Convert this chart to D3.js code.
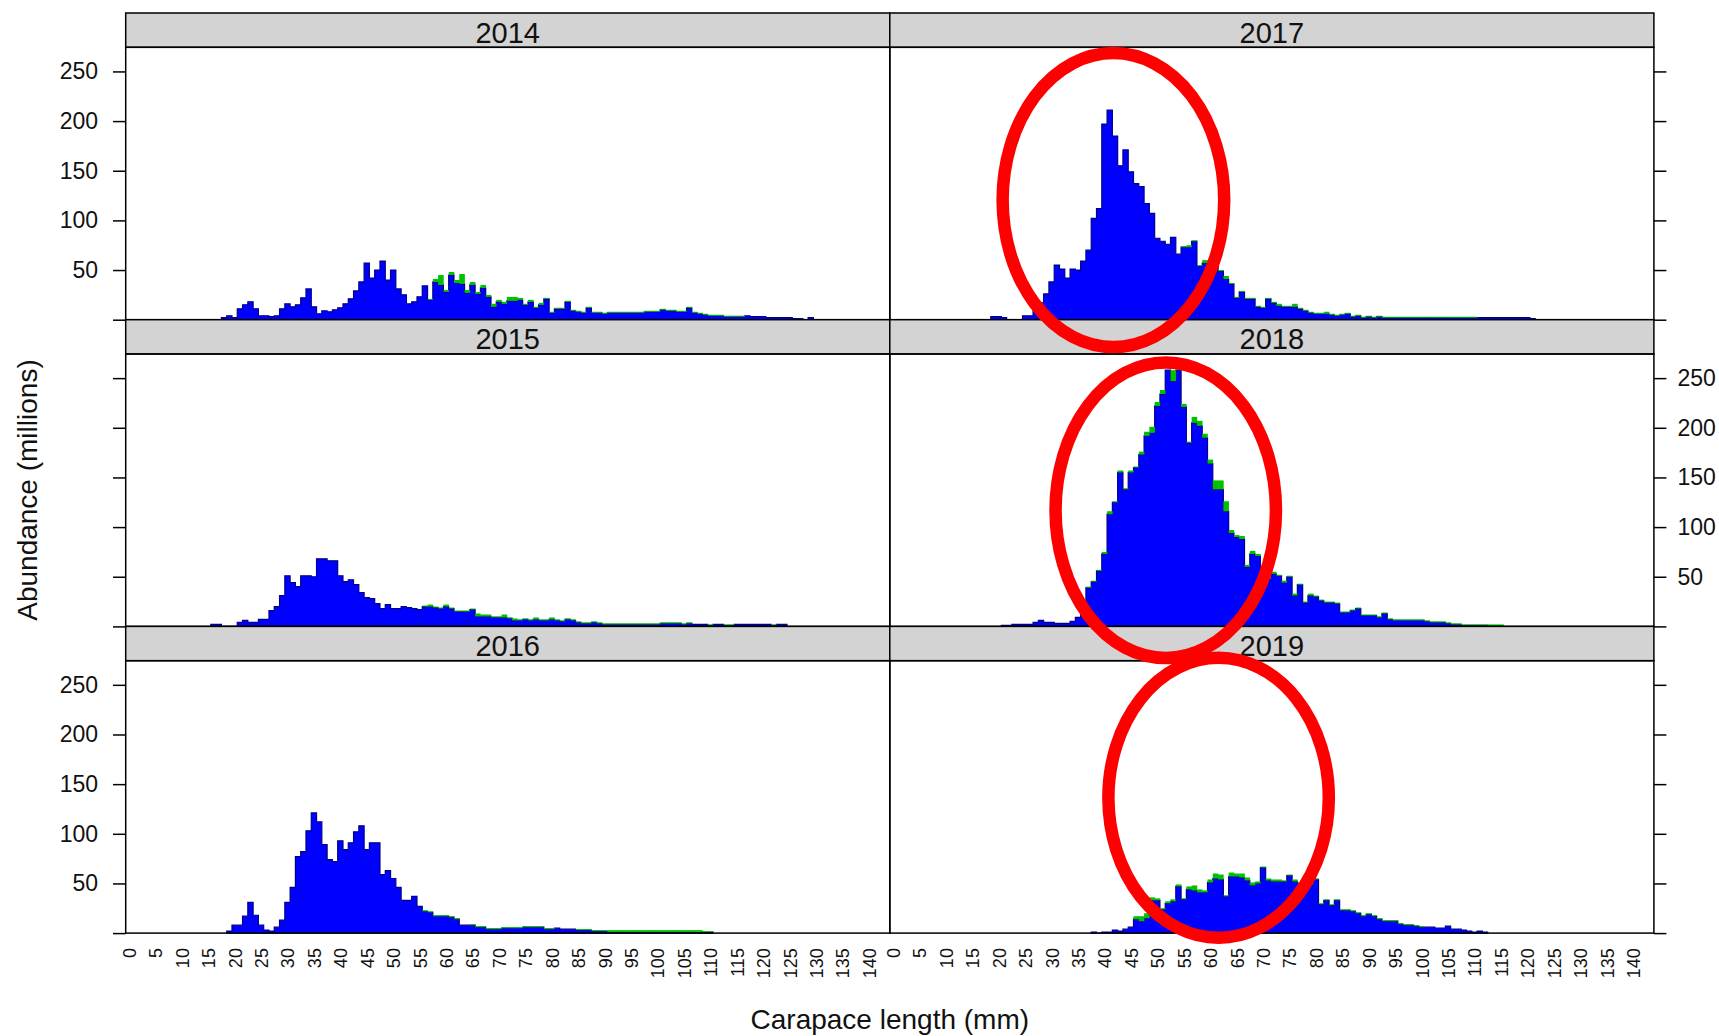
<!DOCTYPE html>
<html><head><meta charset="utf-8">
<script src="https://cdn.jsdelivr.net/npm/d3@7"></script>
<style>html,body{margin:0;padding:0;background:#fff;}svg{display:block;}</style>
</head><body><svg id="chart" width="1719" height="1036"></svg>
<script>
// ---------------- data ----------------
const years = ["2014","2015","2016","2017","2018","2019"];
const xTickLabels = [0,5,10,15,20,25,30,35,40,45,50,55,60,65,70,75,80,85,90,95,100,105,110,115,120,125,130,135,140];
const yTickValues = [0,50,100,150,200,250];
const yTickLabels = ["","50","100","150","200","250"];

// abundance (millions) per 1 mm carapace-length class; blue = main group, green = second group stacked on top
const blue2014From = 18;
const blue2014 = [2,4,2,11,15,18,11,4,4,3,4,11,16,13,15,22,31,13,6,9,8,10,12,16,21,29,38,57,42,50,59,40,50,31,25,16,18,23,34,
  20,38,35,28,45,37,36,27,35,26,32,23,13,18,16,19,19,20,15,18,12,15,21,
  7,11,11,18,9,8,7,12,7,7,6,7,7,7,7,7,7,7,8,8,8,10,9,9,8,8,12,7,6,5,4,4,4,3,3,3,3,
  4,3,3,3,2,2,2,2,2,1,1,0,2];
const green2014From = 57;
const green2014 = [1,3,10,2,3,3,10,3,3,2,3,2,3,2,2,4,4,2,1,2,1,2,1,
  1,1,1,1,1,1,1,1,1,1,1,1,1,1,1,1,1,1,1,1,1,1,1,1,1,1,1,1,1,1,1,1,1,1,1,1,1];

const blue2015From = 16;
const blue2015 = [2,2,0,0,0,4,6,4,4,7,7,16,20,31,51,44,40,51,51,50,68,68,66,66,51,45,47,42,34,29,28,23,18,22,18,18,20,19,18,17,
  20,20,19,18,20,18,15,15,15,17,10,10,10,9,9,9,8,6,6,7,6,7,6,6,7,6,5,7,6,
  4,3,3,4,3,2,2,2,2,2,2,2,2,2,2,2,3,3,3,3,2,3,
  2,2,2,1,2,2,1,1,2,2,2,2,2,2,2,1,2,2];
const green2015From = 56;
const green2015 = [1,2,1,1,2,1,1,1,1,1,3,2,2,1,1,3,1,2,1,1,1,2,1,1,2,1,1,1,1,
  1,1,1,1,1,1,1,1,1,1,1,1,1,1,1,1,1,1,1,1,1,1,
  0,0,0,1,0,0,1,1,0,0,0,0,0,0,0,1];

const blue2016From = 19;
const blue2016 = [2,8,8,17,31,18,8,3,2,6,13,31,46,77,82,103,121,112,89,74,72,93,84,91,102,108,84,91,91,59,63,55,46,33,33,37,27,
  22,21,17,17,17,16,14,8,8,
  8,6,6,4,4,4,5,5,5,5,6,6,6,6,4,4,
  5,4,4,4,3,3,3,2,2,2,
  1,1,1,1,1,1,1,1,1,1,1,1,1,1,1,1,1,1,1,1];
const green2016From = 56;
const green2016 = [1,1,1,1,1,1,1,0,0,1,1,1,1,1,1,1,1,1,1,1,1,1,1,1,1,0,0,0,0,1,1,1,1,1,1,
  2,2,2,2,2,2,2,2,2,2,2,2,2,2,2,2,2,2,1,1];

const blue2017From = 19;
const blue2017 = [3,3,2,0,0,0,4,4,12,17,26,38,55,51,42,51,50,59,70,102,112,197,211,185,155,171,149,137,134,117,107,82,79,76,83,66,
  73,73,79,54,57,54,54,49,41,36,22,28,21,21,13,12,21,17,14,13,13,13,11,9,7,6,6,6,
  5,4,5,6,3,4,2,3,2,3,
  2,2,2,2,2,2,2,2,2,2,2,2,2,2,2,2,2,2,
  2,2,2,2,2,2,2,2,2,2,1];
const green2017From = 55;
const green2017 = [1,2,1,1,3,1,2,1,3,1,1,1,1,1,1,1,1,1,2,1,1,3,1,1,1,1,1,2,
  1,1,1,1,1,1,1,1,1,1,1,1,1,1,1,1,1,1,1,1,1,1,1,1,1,1,1,1];

const blue2018From = 21;
const blue2018 = [1,1,2,2,2,2,4,6,4,4,3,3,3,5,9,12,
  39,45,56,73,113,125,155,138,155,160,173,192,195,222,234,258,247,258,221,185,205,202,190,164,138,138,116,94,90,88,60,73,71,53,48,53,51,44,50,31,42,24,31,30,
  26,24,24,23,14,14,16,18,11,11,11,9,13,7,6,6,6,6,6,6,5,4,4,4,3,2,2,1,1,1,1,1,
  0,0,0];
const green2018From = 37;
const green2018 = [1,1,1,2,3,1,2,1,2,1,3,4,6,4,4,0,11,0,3,1,6,5,4,4,9,9,10,3,2,3,2,3,2,2,1,2,1,2,1,2,1,1,2,1,
  1,1,1,1,1,1,1,1,1,1,1,1,1,1,1,1,1,1,1,1,1,1,1,1,1,1,1,1,1,1,1,1,
  2,2,2];

const blue2019From = 38;
const blue2019 = [1,0,1,1,3,2,4,6,
  14,12,15,33,33,24,30,32,47,34,44,43,41,41,51,55,54,37,57,57,56,53,48,50,66,53,52,52,52,58,52,50,44,49,54,29,33,28,33,
  23,23,22,20,17,19,17,14,12,12,12,9,8,8,7,6,
  6,6,5,5,7,4,4,3,2,1,2,1];
const green2019From = 46;
const green2019 = [3,5,5,3,2,1,2,2,2,1,3,5,3,2,3,5,5,1,4,3,4,3,3,2,1,2,2,2,1,1,2,1,1,1,1,1,1,1,1,
  1,1,1,1,1,1,1,1,1,1,1,1,1,1,1,1];

// red ring annotations (data units of their panels)
const ringYears = ["2017","2018","2019"];
const ringCenterLen = [41.7, 51.6, 61.6];
const ringCenterVal = [120.5, 117, 136.2];
const ringHalfLen = [20.96, 20.85, 20.85];
const ringHalfVal = [148, 148.8, 141];

// ---------------- drawing ----------------
const FONT = '"Liberation Sans", Arial, Helvetica, sans-serif';
const svg = d3.select("#chart").attr("font-family", FONT);
svg.append("rect").attr("width",1719).attr("height",1036).attr("fill","#fff");

const colLeft = [125.7, 889.8];
const panelW = 764.1, stripH = 34.3, panelH = 272.4, topY = 13;
const pitch = stripH + panelH;

const panels = [
  {year:"2014", col:0, row:0, blue:blue2014, blueFrom:blue2014From, green:green2014, greenFrom:green2014From},
  {year:"2015", col:0, row:1, blue:blue2015, blueFrom:blue2015From, green:green2015, greenFrom:green2015From},
  {year:"2016", col:0, row:2, blue:blue2016, blueFrom:blue2016From, green:green2016, greenFrom:green2016From},
  {year:"2017", col:1, row:0, blue:blue2017, blueFrom:blue2017From, green:green2017, greenFrom:green2017From},
  {year:"2018", col:1, row:1, blue:blue2018, blueFrom:blue2018From, green:green2018, greenFrom:green2018From},
  {year:"2019", col:1, row:2, blue:blue2019, blueFrom:blue2019From, green:green2019, greenFrom:green2019From}
];

const x = d3.scaleLinear().domain([-0.605, 143.95]).range([0, panelW]);
const y = d3.scaleLinear().domain([0, 274.3]).range([panelH, 0]);
const area = d3.area().x(d => x(d.x)).y0(d => y(d.y0)).y1(d => y(d.y1));

function panelOrigin(p){ return [colLeft[p.col], topY + p.row*pitch + stripH]; }

panels.forEach(p => {
  const [gx, gy] = panelOrigin(p);
  const g = svg.append("g").attr("transform", `translate(${gx},${gy - stripH})`);
  // strip
  g.append("rect").attr("x",0).attr("y",0).attr("width",panelW).attr("height",stripH)
    .attr("fill","#d3d3d3").attr("stroke","#000").attr("stroke-width",1.5);
  g.append("text").attr("x",panelW/2).attr("y",stripH-4.5).attr("text-anchor","middle")
    .attr("font-size",29).attr("fill","#111").text(p.year);

  const pg = svg.append("g").attr("transform", `translate(${gx},${gy})`);
  const lo = Math.min(p.blueFrom, p.greenFrom);
  const hi = Math.max(p.blueFrom + p.blue.length, p.greenFrom + p.green.length) - 1;
  const rows = [];
  for (let v = lo; v <= hi; v++) {
    rows.push({len: v, blue: p.blue[v - p.blueFrom] || 0, green: p.green[v - p.greenFrom] || 0});
  }
  const stacked = d3.stack().keys(["blue","green"])(rows);

  const pts = [];
  stacked[0].forEach(s => {
    pts.push({x: s.data.len - 0.5, y0: s[0], y1: s[1]});
    pts.push({x: s.data.len + 0.5, y0: s[0], y1: s[1]});
  });
  pg.append("path").attr("d", area(pts)).attr("fill","#0000ff")
    .attr("stroke","#00008a").attr("stroke-width",1.2);

  pg.selectAll("rect.green").data(stacked[1].filter(s => s[1] > s[0])).join("rect")
    .attr("class","green")
    .attr("x", s => x(s.data.len - 0.5)).attr("width", s => x(s.data.len + 0.5) - x(s.data.len - 0.5) + 0.3)
    .attr("y", s => y(s[1])).attr("height", s => y(s[0]) - y(s[1]))
    .attr("fill","#00c000");

  // panel border
  pg.append("rect").attr("x",0).attr("y",0).attr("width",panelW).attr("height",panelH)
    .attr("fill","none").attr("stroke","#000").attr("stroke-width",1.5);

  // y axes
  if (p.col === 0) {
    const showLab = p.row !== 1;
    const ax = d3.axisLeft(y).tickValues(yTickValues).tickSize(12.7).tickPadding(15)
      .tickFormat((d,i) => showLab ? yTickLabels[i] : "");
    const ag = pg.append("g").call(ax);
    ag.select(".domain").remove();
    ag.attr("font-size",23).attr("font-family",FONT);
    ag.selectAll(".tick line").attr("stroke","#000").attr("stroke-width",1.5);
    ag.selectAll(".tick text").attr("fill","#111");
  } else {
    const showLab = p.row === 1;
    const ax = d3.axisRight(y).tickValues(yTickValues).tickSize(12.5).tickPadding(11)
      .tickFormat((d,i) => showLab ? yTickLabels[i] : "");
    const ag = pg.append("g").attr("transform",`translate(${panelW},0)`).call(ax);
    ag.select(".domain").remove();
    ag.attr("font-size",23).attr("font-family",FONT);
    ag.selectAll(".tick line").attr("stroke","#000").attr("stroke-width",1.5);
    ag.selectAll(".tick text").attr("fill","#111");
  }

  // x axis (bottom row only)
  if (p.row === 2) {
    const ax = d3.axisBottom(x).tickValues(xTickLabels).tickSize(0).tickFormat(d => String(d));
    const ag = pg.append("g").attr("transform",`translate(0,${panelH})`).call(ax);
    ag.select(".domain").remove();
    ag.attr("font-size",18).attr("font-family",FONT);
    ag.selectAll(".tick text")
      .attr("transform","rotate(-90)").attr("x",-15).attr("y",0).attr("dy","0.36em")
      .attr("text-anchor","end").attr("fill","#111");
  }
});

// axis titles
svg.append("text").attr("transform","translate(27,490) rotate(-90)")
  .attr("text-anchor","middle").attr("dominant-baseline","central")
  .attr("font-size",28).attr("fill","#111").text("Abundance (millions)");
svg.append("text").attr("x", (colLeft[0] + colLeft[1] + panelW)/2).attr("y",1029)
  .attr("text-anchor","middle").attr("font-size",28).attr("fill","#111").text("Carapace length (mm)");

// red rings
ringYears.forEach((yr, i) => {
  const p = panels.find(q => q.year === yr);
  const [gx, gy] = panelOrigin(p);
  svg.append("ellipse")
    .attr("cx", gx + x(ringCenterLen[i]))
    .attr("cy", gy + y(ringCenterVal[i]))
    .attr("rx", x(ringCenterLen[i] + ringHalfLen[i]) - x(ringCenterLen[i]))
    .attr("ry", y(0) - y(ringHalfVal[i]))
    .attr("fill","none").attr("stroke","#ff0000").attr("stroke-width",12.5);
});
</script>
</body></html>
